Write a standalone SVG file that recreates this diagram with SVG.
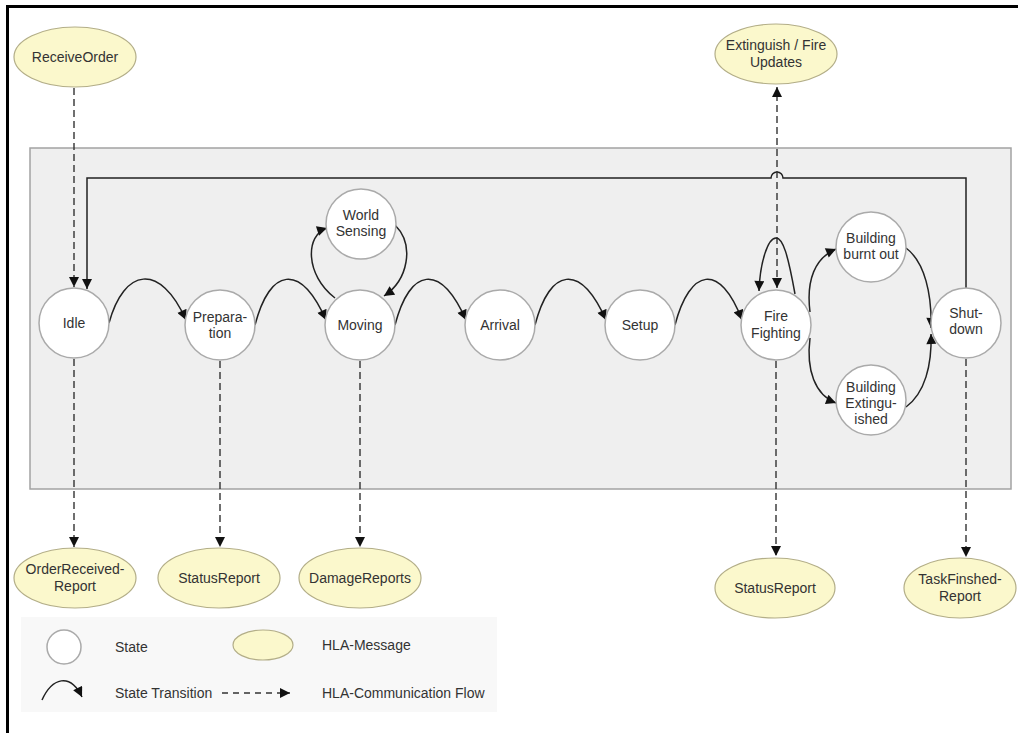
<svg xmlns="http://www.w3.org/2000/svg" width="1018" height="733" viewBox="0 0 1018 733">
<defs>
<marker id="ah" viewBox="0 0 10 10" refX="10" refY="5" markerWidth="11" markerHeight="10" markerUnits="userSpaceOnUse" orient="auto-start-reverse">
<path d="M0,0 L10,5 L0,10 z" fill="#111"/>
</marker>
<style>
.st{fill:#fff;stroke:#aaa;stroke-width:1.5}
.msg{fill:#fbf8cc;stroke:#b3ae88;stroke-width:1.2}
.t{font-family:"Liberation Sans",Arial,sans-serif;font-size:14px;fill:#333;text-anchor:middle}
.tl{font-family:"Liberation Sans",Arial,sans-serif;font-size:14px;fill:#333}
.tr{fill:none;stroke:#222;stroke-width:1.5;marker-end:url(#ah)}
.df{fill:none;stroke:#333;stroke-width:1.4;stroke-dasharray:7,4;marker-end:url(#ah)}
</style>
</defs>
<rect width="1018" height="733" fill="#fff"/>
<path d="M7.5,733 V6.5 H1018" fill="none" stroke="#000" stroke-width="3"/>
<rect x="30" y="148" width="981" height="341" fill="#efefef" stroke="#a3a3a3" stroke-width="1.5"/>
<rect x="21" y="617" width="476" height="95" fill="#f8f8f8"/>
<g id="connectors">
<path class="tr" d="M966,288 V178 H783 A6,6 0 0 0 771,178 H87 V289"/>
<path class="df" d="M74,88 V287"/>
<path class="df" d="M777,288 V87" style="marker-start:url(#ah)"/>
<path class="df" d="M74,359 V547"/>
<path class="df" d="M220,361 V547"/>
<path class="df" d="M360,361 V547"/>
<path class="df" d="M776,361 V556"/>
<path class="df" d="M966,359 V557"/>
<path class="tr" d="M109,323 C124,268 160,262 186,320"/>
<path class="tr" d="M255,325 C270,268 300,262 326,320"/>
<path class="tr" d="M395,325 C410,268 440,262 466,320"/>
<path class="tr" d="M535,325 C550,268 580,262 606,320"/>
<path class="tr" d="M675,325 C690,268 720,262 742,320"/>
<path class="tr" d="M335,298 C305,275 305,235 327,228"/>
<path class="tr" d="M395,225 C415,245 408,280 384,296"/>
<path class="tr" d="M795,294 C788,255 783,238 776,238 C768,238 760,262 759,291"/>
<path class="tr" d="M810,312 C806,280 815,258 836,249"/>
<path class="tr" d="M810,338 C806,370 815,395 836,403"/>
<path class="tr" d="M906,248 C925,262 932,295 931,328"/>
<path class="tr" d="M906,407 C925,393 932,365 931,334"/>
</g>
<g id="ReceiveOrder"><ellipse class="msg" cx="75" cy="57" rx="61" ry="30"/><text class="t" x="75" y="62">ReceiveOrder</text></g>
<g id="ExtinguishFireUpdates"><ellipse class="msg" cx="776" cy="54" rx="61" ry="30"/><text class="t" x="776" y="50">Extinguish / Fire</text><text class="t" x="776" y="67">Updates</text></g>
<g id="Idle"><circle class="st" cx="74" cy="323" r="35"/><text class="t" x="74" y="328">Idle</text></g>
<g id="Preparation"><circle class="st" cx="220" cy="325" r="35"/><text class="t" x="220" y="322">Prepara-</text><text class="t" x="220" y="338">tion</text></g>
<g id="Moving"><circle class="st" cx="360" cy="325" r="35"/><text class="t" x="360" y="330">Moving</text></g>
<g id="WorldSensing"><circle class="st" cx="361" cy="224" r="35"/><text class="t" x="361" y="220">World</text><text class="t" x="361" y="236">Sensing</text></g>
<g id="Arrival"><circle class="st" cx="500" cy="325" r="35"/><text class="t" x="500" y="330">Arrival</text></g>
<g id="Setup"><circle class="st" cx="640" cy="325" r="35"/><text class="t" x="640" y="330">Setup</text></g>
<g id="FireFighting"><circle class="st" cx="776" cy="325" r="35"/><text class="t" x="776" y="321">Fire</text><text class="t" x="776" y="338">Fighting</text></g>
<g id="BuildingBurntOut"><circle class="st" cx="871" cy="247" r="35"/><text class="t" x="871" y="243">Building</text><text class="t" x="871" y="259">burnt out</text></g>
<g id="BuildingExtinguished"><circle class="st" cx="871" cy="400" r="35"/><text class="t" x="871" y="392">Building</text><text class="t" x="871" y="408">Extingu-</text><text class="t" x="871" y="424">ished</text></g>
<g id="Shutdown"><circle class="st" cx="966" cy="323" r="35"/><text class="t" x="966" y="318">Shut-</text><text class="t" x="966" y="334">down</text></g>
<g id="OrderReceivedReport"><ellipse class="msg" cx="75" cy="578" rx="61" ry="30"/><text class="t" x="75" y="574">OrderReceived-</text><text class="t" x="75" y="591">Report</text></g>
<g id="StatusReport1"><ellipse class="msg" cx="219" cy="578" rx="61" ry="30"/><text class="t" x="219" y="583">StatusReport</text></g>
<g id="DamageReports"><ellipse class="msg" cx="360" cy="578" rx="61" ry="30"/><text class="t" x="360" y="583">DamageReports</text></g>
<g id="StatusReport2"><ellipse class="msg" cx="775" cy="588" rx="60" ry="30"/><text class="t" x="775" y="593">StatusReport</text></g>
<g id="TaskFinshedReport"><ellipse class="msg" cx="960" cy="588" rx="56" ry="30"/><text class="t" x="960" y="584">TaskFinshed-</text><text class="t" x="960" y="601">Report</text></g>
<g id="legend">
<circle class="st" cx="64" cy="647" r="17"/>
<text class="tl" x="115" y="652">State</text>
<ellipse class="msg" cx="263" cy="645" rx="30" ry="15"/>
<text class="tl" x="322" y="650">HLA-Message</text>
<path class="tr" d="M42,700 C52,678 70,672 82,697"/>
<text class="tl" x="115" y="698">State Transition</text>
<path class="df" d="M222,693 H290" style="stroke-dasharray:6,5"/>
<text class="tl" x="322" y="698">HLA-Communication Flow</text>
</g>
</svg>
